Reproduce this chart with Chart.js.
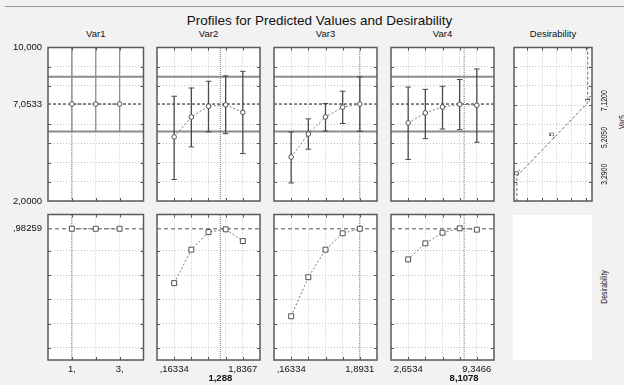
<!DOCTYPE html>
<html>
<head>
<meta charset="utf-8">
<script src="https://cdn.jsdelivr.net/npm/chart.js@4.4.0/dist/chart.umd.min.js"></script>
<style>
html, body { margin: 0; padding: 0; background: #f2f2f2; }
#stage { position: relative; width: 624px; height: 385px; overflow: hidden;
  font-family: "Liberation Sans", Arial, sans-serif; color: #111; }
#stage canvas { position: absolute; left: 0; top: 0; }
.t { position: absolute; white-space: nowrap; transform: translateX(-50%); }
.title { font-size: 13.5px; line-height: 14px; }
.head { font-size: 9.5px; line-height: 10px; }
.rot { position: absolute; white-space: nowrap; font-size: 9.5px; line-height: 10px;
  transform: translate(-50%, -50%) rotate(-90deg) scaleX(.72); }
#rule { position: absolute; left: 5px; top: 6px; width: 619px; height: 1px; background: #9a9a9a; }
#blank { position: absolute; left: 513px; top: 215px; width: 79px; height: 145px; background: #fff; }
</style>
</head>
<body>
<div id="stage">
  <div id="rule"></div>
  <div id="blank"></div>
  <div class="t title" style="left:319.5px;top:13.5px">Profiles for Predicted Values and Desirability</div>
  <div class="rot" style="left:621.5px;top:121.5px">Var5</div>
  <div class="rot" style="left:603.5px;top:287px">Desirability</div>
</div>
<script>
// value axes (factor panels skip the grid line hidden under the dashed line)
const var5Ticks = [2, 3, 4, 5, 6, 7, 8, 9, 10];
const var5FactorTicks = [2, 3, 4, 5, 6, 8, 9, 10];
const desirTicks = [-0.1, 0, 0.2, 0.4, 0.6, 0.8, 1.1];
const var5Range = [2, 10];
const desirRange = [-0.1, 1.1];

// prediction at current settings
const predAtCurrent = 7.0533;
const ciAtCurrent = [5.62, 8.47];
const desirAtCurrent = 0.98259;

const var1Levels = [1, 2, 3];
const var1Pred = [7.0533, 7.0533, 7.0533];
const var1Lower = [5.62, 5.62, 5.62];
const var1Upper = [10.6, 10.6, 10.6];
const var1Desir = [0.98259, 0.98259, 0.98259];

const var2Levels = [0.16334, 0.58168, 1.0, 1.41836, 1.8367];
const var2Pred = [5.34, 6.38, 6.94, 7.01, 6.62];
const var2Lower = [3.12, 4.82, 5.60, 5.51, 4.47];
const var2Upper = [7.46, 7.89, 8.24, 8.52, 8.76];
const var2Desir = [0.534, 0.81, 0.955, 0.978, 0.881];

const var3Levels = [0.16334, 0.59578, 1.02822, 1.46066, 1.8931];
const var3Pred = [4.29, 5.49, 6.38, 6.89, 7.0533];
const var3Lower = [2.94, 4.70, 5.65, 6.04, 5.64];
const var3Upper = [5.60, 6.28, 7.08, 7.72, 8.47];
const var3Desir = [0.261, 0.583, 0.81, 0.945, 0.98259];

const var4Levels = [2.6534, 4.3267, 6.0, 7.6733, 9.3466];
const var4Pred = [6.07, 6.59, 6.90, 7.04, 6.99];
const var4Lower = [4.16, 5.25, 5.75, 5.72, 5.06];
const var4Upper = [7.94, 7.82, 7.98, 8.33, 8.88];
const var4Desir = [0.73, 0.862, 0.95, 0.986, 0.975];

const currentLevels = [1, 1.288, 1.8931, 8.1078];
const currentText = [null, '1,288', null, '8,1078'];
const headers = ['Var1', 'Var2', 'Var3', 'Var4', 'Desirability'];

const var1TickValues = [1, 3], var1TickText = ['1,', '3,'];
const var2TickValues = [0.16334, 1.8367], var2TickText = [',16334', '1,8367'];
const var3TickValues = [0.16334, 1.8931], var3TickText = [',16334', '1,8931'];
const var4TickValues = [2.6534, 9.3466], var4TickText = ['2,6534', '9,3466'];

// desirability function of Var5
const desFnD = [0, 0, 0.5, 1, 1];
const desFnY = [2, 3.29, 5.205, 7.12, 10];
const desFnText = [null, '0,', ',5', '1,', null];
const desGridD = [0.15, 0.36, 0.56, 0.77, 0.97];
const desRange = [-0.04, 1.06];

// panel layout in pixels
const cols = [[48, 143.5], [157, 260], [274, 377], [391, 494], [514, 592]];
const rows = [[47.5, 201], [214.5, 360]];
const W = 624, H = 385;
const FONT = '"Liberation Sans", Arial, sans-serif';

const stage = document.getElementById('stage');
headers.forEach((h, i) => {
  const d = document.createElement('div');
  d.className = 't head';
  d.style.left = ((cols[i][0] + cols[i][1]) / 2) + 'px';
  d.style.top = '28.5px';
  d.textContent = h;
  stage.appendChild(d);
});

const deco = {
  id: 'deco',
  beforeDraw(chart) {
    const a = chart.chartArea, c = chart.ctx;
    c.save();
    c.fillStyle = '#fff';
    c.fillRect(a.left, a.top, a.right - a.left, a.bottom - a.top);
    c.restore();
  },
  afterDraw(chart, args, o) {
    const { ctx, chartArea: a } = chart;
    const x = chart.scales.x, y = chart.scales.y;
    ctx.save();
    ctx.strokeStyle = '#555';
    ctx.lineWidth = 1;
    ctx.beginPath();
    x.ticks.forEach(t => {
      const p = Math.round(x.getPixelForValue(t.value)) + 0.5;
      if (p <= a.left + 1 || p >= a.right - 1) return;
      ctx.moveTo(p, a.top); ctx.lineTo(p, a.top + 3);
      ctx.moveTo(p, a.bottom); ctx.lineTo(p, a.bottom - 3);
    });
    y.ticks.forEach(t => {
      const p = Math.round(y.getPixelForValue(t.value)) + 0.5;
      if (p <= a.top + 1 || p >= a.bottom - 1) return;
      ctx.moveTo(a.left, p); ctx.lineTo(a.left + 3, p);
      ctx.moveTo(a.right, p); ctx.lineTo(a.right - 3, p);
    });
    ctx.stroke();
    ctx.lineWidth = 1.5;
    ctx.strokeStyle = '#5a5a5a';
    ctx.strokeRect(a.left, a.top, a.right - a.left, a.bottom - a.top);

    ctx.fillStyle = '#111';
    ctx.font = '9.5px ' + FONT;
    ctx.textBaseline = 'middle';
    (o.left || []).forEach(([v, s]) => {
      ctx.textAlign = 'right';
      ctx.fillText(s, a.left - 6, y.getPixelForValue(v));
    });
    (o.bottom || []).forEach(([v, s, bold]) => {
      ctx.font = (bold ? 'bold ' : '') + '9.5px ' + FONT;
      ctx.textAlign = 'center';
      ctx.fillText(s, x.getPixelForValue(v), bold ? a.bottom + 18.5 : a.bottom + 9.5);
    });
    ctx.font = '9.5px ' + FONT;
    (o.right || []).forEach(([v, s]) => {
      ctx.save();
      ctx.translate(a.right + 12, y.getPixelForValue(v) - 2);
      ctx.rotate(-Math.PI / 2);
      ctx.scale(0.72, 1);
      ctx.textAlign = 'center';
      ctx.fillText(s, 0, 0);
      ctx.restore();
    });
    ctx.font = '8px ' + FONT;
    ctx.fillStyle = '#333';
    (o.points || []).forEach(([xv, yv, s]) => {
      ctx.save();
      ctx.translate(x.getPixelForValue(xv), y.getPixelForValue(yv) - 4);
      ctx.rotate(-Math.PI / 2);
      ctx.textAlign = 'center';
      ctx.fillText(s, 0, 0);
      ctx.restore();
    });
    ctx.restore();
  }
};

function axis(range, ticks) {
  return {
    type: 'linear', min: range[0], max: range[1],
    afterBuildTicks: s => { s.ticks = ticks.map(v => ({ value: v })); },
    ticks: { display: false },
    grid: { color: '#c2c2c2', lineWidth: 1, drawTicks: false },
    border: { display: false, dash: [1, 2] }
  };
}

function panel(col, row, xRange, xTicks, yRange, yTicks, datasets, decoOpts) {
  const cv = document.createElement('canvas');
  cv.width = W; cv.height = H;
  stage.appendChild(cv);
  const [x0, x1] = cols[col], [y0, y1] = rows[row];
  return new Chart(cv, {
    type: 'line',
    data: { datasets },
    plugins: [deco],
    options: {
      responsive: false, animation: false, events: [],
      layout: { autoPadding: false, padding: { left: x0, top: y0, right: W - x1, bottom: H - y1 } },
      plugins: { legend: { display: false }, tooltip: { enabled: false }, deco: decoOpts },
      scales: { x: axis(xRange, xTicks), y: axis(yRange, yTicks) }
    }
  });
}

const line = (data, style) => ({ data, pointRadius: 0, fill: false, tension: 0, borderWidth: 1, ...style });
const pts = (xs, ys) => xs.map((v, i) => ({ x: v, y: ys[i] }));

const factors = [
  { levels: var1Levels, pred: var1Pred, lo: var1Lower, hi: var1Upper, des: var1Desir,
    range: [0, 4], caps: false, bar: '#8e8e8e', tv: var1TickValues, tt: var1TickText },
  { levels: var2Levels, pred: var2Pred, lo: var2Lower, hi: var2Upper, des: var2Desir,
    caps: true, bar: '#4a4a4a', tv: var2TickValues, tt: var2TickText },
  { levels: var3Levels, pred: var3Pred, lo: var3Lower, hi: var3Upper, des: var3Desir,
    caps: true, bar: '#4a4a4a', tv: var3TickValues, tt: var3TickText },
  { levels: var4Levels, pred: var4Pred, lo: var4Lower, hi: var4Upper, des: var4Desir,
    caps: true, bar: '#4a4a4a', tv: var4TickValues, tt: var4TickText }
];

factors.forEach((f, i) => {
  const L = f.levels;
  const step = L[1] - L[0];
  const xr = f.range || [L[0] - step, L[L.length - 1] + step];
  const cur = currentLevels[i];
  const bars = [];
  L.forEach((v, k) => { bars.push({ x: v, y: f.lo[k] }, { x: v, y: f.hi[k] }, { x: v, y: null }); });
  const caps = f.caps ? [...pts(L, f.lo), ...pts(L, f.hi)] : [];

  const topSets = [
    line(pts(L, f.pred), { borderColor: '#7a7a7a', borderDash: [2, 2],
      pointRadius: 2.3, pointStyle: 'circle', pointBorderColor: '#505050',
      pointBackgroundColor: '#fff', pointBorderWidth: 1 }),
    { data: caps, showLine: false, pointStyle: 'line', pointRadius: 2.8,
      pointBorderColor: f.bar, pointBorderWidth: 1, borderColor: f.bar },
    line(bars, { borderColor: f.bar, borderWidth: 1.3 }),
    line([{ x: cur, y: var5Range[0] }, { x: cur, y: var5Range[1] }], { borderColor: '#777', borderDash: [1, 1] }),
    line([{ x: xr[0], y: predAtCurrent }, { x: xr[1], y: predAtCurrent }], { borderColor: '#111', borderDash: [3, 2] }),
    line([{ x: xr[0], y: ciAtCurrent[0] }, { x: xr[1], y: ciAtCurrent[0] }], { borderColor: '#8c8c8c', borderWidth: 2 }),
    line([{ x: xr[0], y: ciAtCurrent[1] }, { x: xr[1], y: ciAtCurrent[1] }], { borderColor: '#8c8c8c', borderWidth: 2 })
  ];
  const topDeco = i === 0 ? { left: [[10, '10,000'], [predAtCurrent, '7,0533'], [2, '2,0000']] } : {};
  panel(i, 0, xr, L, var5Range, var5FactorTicks, topSets, topDeco);

  const bottomLabels = f.tv.map((v, k) => [v, f.tt[k], false]);
  if (currentText[i]) bottomLabels.push([cur, currentText[i], true]);
  const botSets = [
    line(pts(L, f.des), { borderColor: '#7a7a7a', borderDash: [2, 2],
      pointRadius: 3.5, pointStyle: 'rect', pointBorderColor: '#505050',
      pointBackgroundColor: '#fff', pointBorderWidth: 1 }),
    line([{ x: cur, y: desirRange[0] }, { x: cur, y: desirRange[1] }], { borderColor: '#777', borderDash: [1, 1] }),
    line([{ x: xr[0], y: desirAtCurrent }, { x: xr[1], y: desirAtCurrent }], { borderColor: '#8a8a8a', borderWidth: 1.5, borderDash: [4, 3] })
  ];
  const botDeco = { bottom: bottomLabels };
  if (i === 0) botDeco.left = [[desirAtCurrent, ',98259']];
  panel(i, 1, xr, L, desirRange, desirTicks, botSets, botDeco);
});

// desirability profile of Var5
panel(4, 0, desRange, desGridD, var5Range, var5Ticks, [
  line(pts(desFnD, desFnY), { borderColor: '#6a6a6a', borderDash: [3, 2] })
], {
  right: [[3.29, '3,2900'], [5.205, '5,2050'], [7.12, '7,1200']],
  points: desFnD.map((d, k) => [d, desFnY[k], desFnText[k]]).filter(p => p[2])
});
</script>
</body>
</html>
